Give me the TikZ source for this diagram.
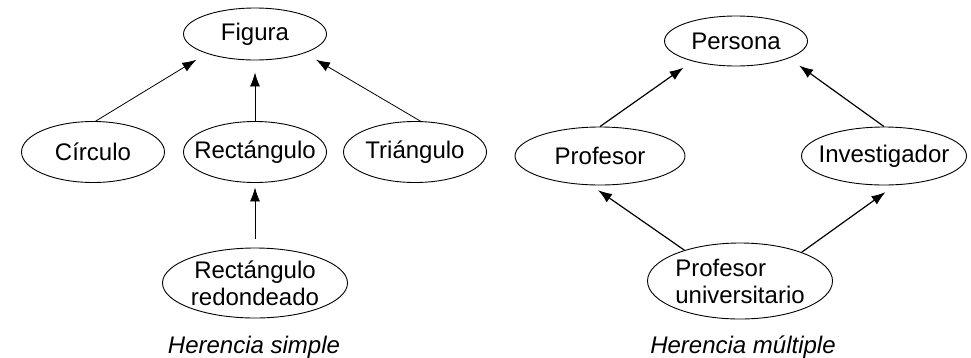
\documentclass[tikz,border=0pt]{standalone}
\usepackage{fontspec}
\setmainfont{Liberation Sans}
\usetikzlibrary{shapes.geometric,arrows.meta}
\begin{document}
\begin{tikzpicture}[x=1pt,y=-1pt,
  txt/.style={font=\fontsize{24}{27}\selectfont},
  cls/.style={ellipse,draw=black,line width=0.9pt,inner sep=0pt,
    minimum width=143pt,minimum height=61pt},
  every label/.style={txt,inner sep=0pt},
  inh/.style={-{Latex[length=14pt,width=10pt]},line width=0.8pt},
  inhb/.style={inh,line width=1.2pt},
  caption/.style={txt,font=\fontsize{24}{27}\selectfont\itshape,anchor=base}]
\useasboundingbox (0,0) rectangle (971,357);

% Herencia simple
\node[cls,minimum height=52pt,label=center:Figura] (fig) at (255,34) {};
\node[cls,label=center:Círculo] (circ) at (93,152) {};
\node[cls,label=center:Rectángulo] (rect) at (255,152) {};
\node[cls,label=center:Triángulo] (tri) at (415,152) {};
\node[cls,minimum width=185pt,minimum height=70pt,
  label={[align=center]center:Rectángulo\\redondeado}] (rr) at (255,283) {};
\node[caption] (cap1) at (254,353) {Herencia simple};

\draw[inh,shorten >=12pt] (circ.85) -- (fig.202);
\draw[inh,shorten >=12pt] (rect.north) -- (fig.south);
\draw[inh,shorten >=13pt] (tri.80) -- (fig.339);
\draw[inh,shorten <=9pt,shorten >=4.5pt] (rr.north) -- (rect.south);

% Herencia multiple
\node[cls,minimum height=50pt,label=center:Persona] (per) at (736,41) {};
\node[cls,minimum width=170pt,minimum height=58pt,label=center:Profesor] (prof) at (600,156) {};
\node[cls,minimum width=165pt,minimum height=58pt,label=center:Investigador] (inv) at (884,156) {};
\node[cls,minimum width=185pt,minimum height=76pt,
  label={[align=left]center:Profesor\\universitario}] (pu) at (740,281) {};
\node[caption] (cap2) at (743,353) {Herencia múltiple};

\draw[inhb,shorten >=11pt] (prof.north) -- (per.205);
\draw[inhb,shorten >=12.5pt] (inv.north) -- (per.342);
\draw[inhb,shorten >=8.5pt] (pu.151) -- (prof.253);
\draw[inhb,shorten >=12pt] (pu.25) -- (inv.291);
\end{tikzpicture}
\end{document}
